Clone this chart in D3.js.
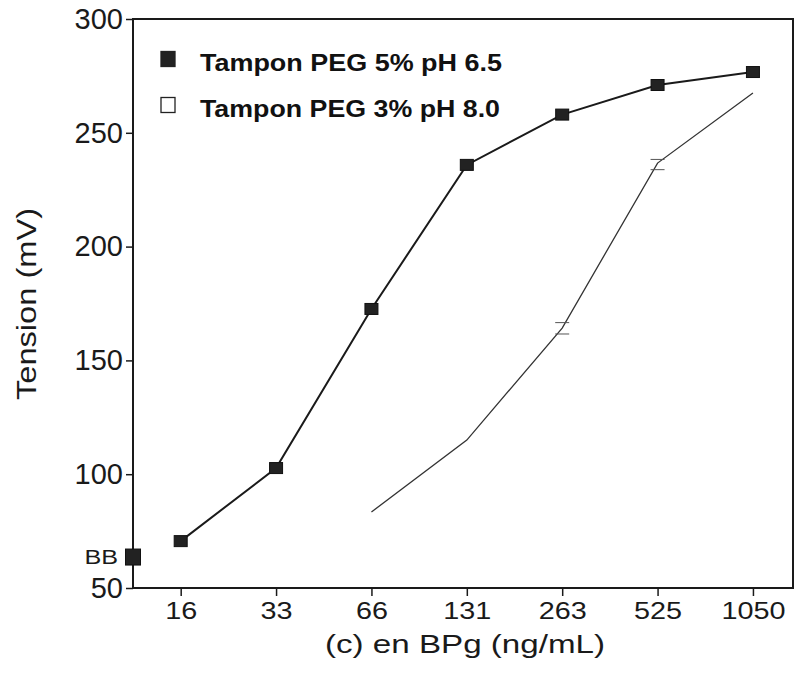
<!DOCTYPE html>
<html>
<head>
<meta charset="utf-8">
<script src="https://cdn.jsdelivr.net/npm/d3@7"></script>
<style>
  html, body { margin: 0; padding: 0; background: #fff; }
  svg { display: block; font-family: "Liberation Sans", Arial, sans-serif; }
</style>
</head>
<body>
<svg id="chart" width="795" height="682"></svg>
<script>
// ---- data ----
const categories = ["16", "33", "66", "131", "263", "525", "1050"];
const blankLabel = "BB";
const peg5Blank = 63.6;
const peg5 = [70.6, 102.7, 172.6, 235.9, 258.0, 271.0, 276.7];
const peg3 = [null, null, 83.4, 115.0, 164.2, 236.7, 267.5];
const peg3ErrLow = [null, null, null, null, 161.6, 233.8, null];
const peg3ErrHigh = [null, null, null, null, 166.6, 238.3, null];
const yTicks = [50, 100, 150, 200, 250, 300];
const legendLabels = ["Tampon PEG 5% pH 6.5", "Tampon PEG 3% pH 8.0"];
const xTitle = "(c) en BPg (ng/mL)";
const yTitle = "Tension (mV)";

// ---- layout ----
const plotL = 133, plotR = 793, plotT = 19, plotB = 588;
const svg = d3.select("#chart");
const ink = "#1a1a1a";

const x = d3.scaleLinear().domain([0.5, 7.42]).range([plotL, plotR]);
const y = d3.scaleLinear().domain([50, 300]).range([plotB, plotT]);
const xi = i => x(i + 1);

// frame
svg.append("rect").attr("x", plotL).attr("y", plotT)
  .attr("width", plotR - plotL).attr("height", plotB - plotT)
  .attr("fill", "none").attr("stroke", ink).attr("stroke-width", 2);

// y axis
const yAxis = svg.append("g").attr("transform", `translate(${plotL},0)`)
  .call(d3.axisLeft(y).tickValues(yTicks).tickSize(7).tickPadding(3));
yAxis.select(".domain").remove();
yAxis.selectAll("line").attr("stroke", ink).attr("stroke-width", 1.5);
yAxis.selectAll("text").attr("font-size", 29).attr("fill", ink)
  .attr("font-family", "Liberation Sans, Arial, sans-serif");

// x axis
const xAxis = svg.append("g").attr("transform", `translate(0,${plotB})`)
  .call(d3.axisBottom(x).tickValues(categories.map((c, i) => i + 1))
    .tickFormat((d) => categories[d - 1]).tickSize(8).tickPadding(6));
xAxis.select(".domain").remove();
xAxis.selectAll("line").attr("stroke", ink).attr("stroke-width", 1.5);
xAxis.selectAll("text").attr("font-size", 24).attr("fill", ink)
  .attr("font-family", "Liberation Sans, Arial, sans-serif")
  .attr("transform", "scale(1.2,1)");

// BB label
const bbX = plotL - 15;
svg.append("text").attr("x", bbX).attr("y", y(peg5Blank))
  .attr("dy", "0.35em").attr("text-anchor", "end")
  .attr("font-size", 21).attr("fill", ink)
  .attr("transform", `translate(${bbX},0) scale(1.2,1) translate(${-bbX},0)`)
  .text(blankLabel);

// titles
svg.append("text")
  .attr("transform", `translate(36,304) rotate(-90)`)
  .attr("text-anchor", "middle").attr("font-size", 27).attr("fill", ink)
  .attr("textLength", 192).attr("lengthAdjust", "spacingAndGlyphs")
  .text(yTitle);
svg.append("text").attr("x", 465).attr("y", 653)
  .attr("text-anchor", "middle").attr("font-size", 25).attr("fill", ink)
  .attr("textLength", 280).attr("lengthAdjust", "spacingAndGlyphs")
  .text(xTitle);

// series PEG 3% (thin line, no markers)
const pts3 = peg3.map((v, i) => v == null ? null : [xi(i), y(v)]).filter(d => d);
svg.append("path").attr("d", d3.line()(pts3))
  .attr("fill", "none").attr("stroke", "#333").attr("stroke-width", 1.3);
peg3.forEach((v, i) => {
  if (peg3ErrLow[i] == null) return;
  [peg3ErrLow[i], peg3ErrHigh[i]].forEach(e => {
    svg.append("line").attr("x1", xi(i) - 7).attr("x2", xi(i) + 7)
      .attr("y1", y(e)).attr("y2", y(e))
      .attr("stroke", "#555").attr("stroke-width", 1);
  });
});

// series PEG 5% (line + filled squares)
const pts5 = peg5.map((v, i) => [xi(i), y(v)]);
svg.append("path").attr("d", d3.line()(pts5))
  .attr("fill", "none").attr("stroke", ink).attr("stroke-width", 2);
svg.selectAll(".m5").data(peg5).enter().append("rect")
  .attr("x", (d, i) => xi(i) - 6.5).attr("y", d => y(d) - 5.5)
  .attr("width", 13).attr("height", 11)
  .attr("fill", "#222").attr("stroke", "#111").attr("stroke-width", 1);
svg.append("rect").attr("x", plotL - 7.5).attr("y", y(peg5Blank) - 8)
  .attr("width", 15).attr("height", 16)
  .attr("fill", "#222").attr("stroke", "#111").attr("stroke-width", 1);

// legend
const lg = svg.append("g");
const legendLens = [302, 300];
legendLabels.forEach((t, i) => {
  const cy = 59 + i * 46;
  lg.append("rect").attr("x", 161).attr("y", cy - 7.5).attr("width", 14).attr("height", 15)
    .attr("fill", i === 0 ? "#222" : "#fff").attr("stroke", "#222").attr("stroke-width", 1.3);
  lg.append("text").attr("x", 200).attr("y", cy + 12)
    .attr("font-size", 24).attr("font-weight", "bold").attr("fill", "#111")
    .attr("textLength", legendLens[i]).attr("lengthAdjust", "spacingAndGlyphs")
    .text(t);
});
</script>
</body>
</html>
